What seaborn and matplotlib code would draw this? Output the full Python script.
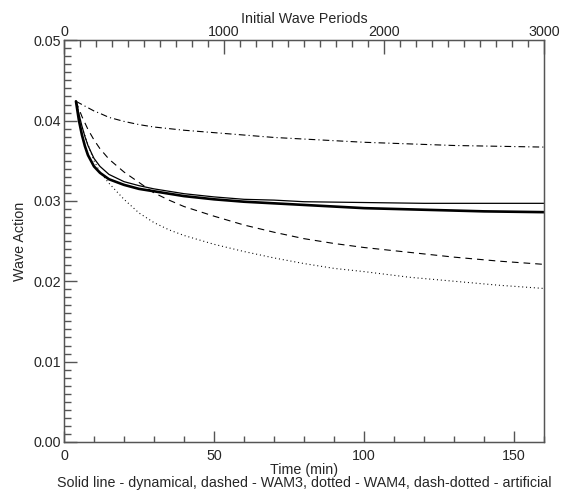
import pandas as pd
import matplotlib
matplotlib.use("Agg")
import matplotlib.pyplot as plt
import seaborn as sns

# time axis (min) for each curve
t_solid = [4, 5, 6, 7, 8, 10, 12, 15, 20, 25, 30, 40, 50, 60, 70, 80, 100, 120, 140, 160]
dyn_thin = [0.0424, 0.0408, 0.0393, 0.0380, 0.0369, 0.0353, 0.0343, 0.0333, 0.0324, 0.0319,
            0.0315, 0.0309, 0.0305, 0.0302, 0.0301, 0.0299, 0.0298, 0.0297, 0.0297, 0.0297]
dyn_thick = [0.0424, 0.0400, 0.0382, 0.0368, 0.0357, 0.0343, 0.0335, 0.0327, 0.0320, 0.0315,
             0.0312, 0.0306, 0.0302, 0.0299, 0.0297, 0.0295, 0.0291, 0.0289, 0.0287, 0.0286]

t_other = [4, 6, 8, 10, 12, 15, 20, 25, 30, 35, 40, 50, 60, 70, 80, 90, 100, 115, 130, 145, 160]
wam3 = [0.0424, 0.0405, 0.0389, 0.0376, 0.0365, 0.0352, 0.0336, 0.0323, 0.0310, 0.0301, 0.0293,
        0.0281, 0.0270, 0.0261, 0.0253, 0.0247, 0.0242, 0.0236, 0.0230, 0.0225, 0.0221]
wam4 = [0.0424, 0.0392, 0.0370, 0.0350, 0.0336, 0.0322, 0.0302, 0.0285, 0.0273, 0.0264, 0.0257,
        0.0246, 0.0237, 0.0229, 0.0222, 0.0216, 0.0212, 0.0205, 0.0200, 0.0195, 0.0191]
artificial = [0.0424, 0.0420, 0.0416, 0.0412, 0.0409, 0.0404, 0.0399, 0.0395, 0.0392, 0.0390, 0.0388,
              0.0385, 0.0382, 0.0379, 0.0377, 0.0375, 0.0373, 0.0371, 0.0369, 0.0368, 0.0367]

x_ticks = [0, 50, 100, 150]
y_ticks = [0.00, 0.01, 0.02, 0.03, 0.04, 0.05]
top_ticks = [0, 1000, 2000, 3000]
periods_total = 3000
t_max = 160

sns.set_style("ticks")
plt.rcParams['font.family'] = ['Liberation Sans', 'DejaVu Sans']
plt.rcParams['font.size'] = 10.3

fig = plt.figure(figsize=(5.61, 4.91), dpi=100)
ax = fig.add_axes([0.114, 0.1, 0.856, 0.818])

df_solid = pd.DataFrame({"t": t_solid, "thin": dyn_thin, "thick": dyn_thick})
df_other = pd.DataFrame({"t": t_other, "wam3": wam3, "wam4": wam4, "art": artificial})

sns.lineplot(data=df_solid, x="t", y="thin", ax=ax, color="black", lw=0.9)
sns.lineplot(data=df_solid, x="t", y="thick", ax=ax, color="black", lw=1.9)
sns.lineplot(data=df_other, x="t", y="wam3", ax=ax, color="black", lw=0.8,
             linestyle=(0, (6, 4.5)))
sns.lineplot(data=df_other, x="t", y="wam4", ax=ax, color="black", lw=0.8,
             linestyle=(0, (0.9, 2.6)))
sns.lineplot(data=df_other, x="t", y="art", ax=ax, color="black", lw=0.8,
             linestyle=(0, (6, 2.8, 1, 2.8)))

ax.set_xlim(0, t_max)
ax.set_ylim(0, 0.05)
ax.set_xticks(x_ticks)
ax.set_xticks(range(0, t_max + 1, 10), minor=True)
ax.set_yticks(y_ticks)
ax.set_yticks([i / 1000 for i in range(0, 51)], minor=True)
ax.set_yticklabels([f"{v:.2f}" for v in y_ticks])

for s in ax.spines.values():
    s.set_color("#555555")
    s.set_linewidth(1.0)

ax.tick_params(axis="both", which="both", direction="in", color="#555555", width=1.0,
               bottom=True, left=True, top=False, right=False)
ax.tick_params(axis="y", which="major", length=9, pad=2)
ax.tick_params(axis="y", which="minor", length=5)
ax.tick_params(axis="x", which="major", length=8, pad=5)
ax.tick_params(axis="x", which="minor", length=4)

ax.set_ylabel("Wave Action", labelpad=5)
ax.set_xlabel("Time (min)\nSolid line - dynamical, dashed - WAM3, dotted - WAM4, dash-dotted - artificial",
              labelpad=0, linespacing=0.95)

# top axis: elapsed initial wave periods
top = ax.twiny()
top.set_xlim(0, periods_total)
top.set_xticks(top_ticks)
top.set_xticks(range(0, periods_total + 1, 100), minor=True)
top.tick_params(axis="x", which="both", direction="in", color="#555555", width=1.0, pad=1,
                top=True, bottom=False)
top.tick_params(axis="x", which="major", length=10)
top.tick_params(axis="x", which="minor", length=5)
for s in top.spines.values():
    s.set_color("#555555")
top.set_xlabel("Initial Wave Periods", labelpad=1)

fig.savefig("out.png", dpi=100)
